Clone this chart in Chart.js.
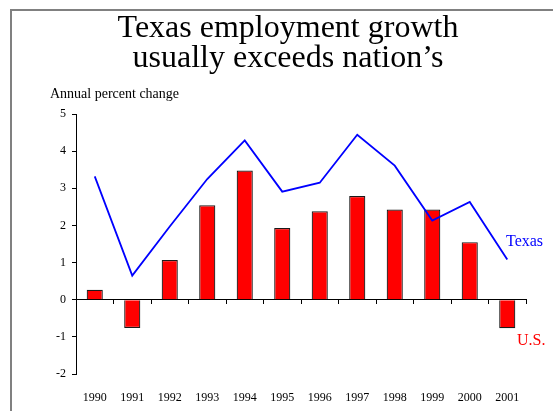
<!DOCTYPE html>
<html>
<head>
<meta charset="utf-8">
<script src="https://cdn.jsdelivr.net/npm/chart.js@4.4.1/dist/chart.umd.min.js"></script>
<style>
html,body{margin:0;padding:0;background:#fff;}
#c{display:block;}
</style>
</head>
<body>
<canvas id="c" width="553" height="411"></canvas>
<script>
const years = ['1990','1991','1992','1993','1994','1995','1996','1997','1998','1999','2000','2001'];
const usValues = [0.27, -0.76, 1.07, 2.54, 3.48, 1.93, 2.38, 2.79, 2.43, 2.43, 1.55, -0.77];
const texasValues = [3.32, 0.65, 1.97, 3.25, 4.29, 2.91, 3.15, 4.44, 3.61, 2.13, 2.63, 1.08];
const titleLines = ['Texas employment growth', 'usually exceeds nation\u2019s'];
const yAxisTitle = 'Annual percent change';
const seriesLabels = ['U.S.', 'Texas'];

const SERIF = '"Liberation Serif", "Times New Roman", Times, serif';

const decor = {
  id: 'decor',
  beforeDraw(chart) {
    const ctx = chart.ctx;
    ctx.save();
    ctx.fillStyle = '#fff';
    ctx.fillRect(0, 0, chart.width, chart.height);
    ctx.strokeStyle = '#808080';
    ctx.lineWidth = 2;
    ctx.beginPath();
    ctx.moveTo(11, chart.height);
    ctx.lineTo(11, 10);
    ctx.lineTo(chart.width, 10);
    ctx.stroke();
    ctx.restore();
  },
  afterDraw(chart) {
    const ctx = chart.ctx;
    ctx.save();
    ctx.fillStyle = '#000';
    ctx.textAlign = 'center';
    ctx.textBaseline = 'alphabetic';
    ctx.font = '32px ' + SERIF;
    ctx.fillText(titleLines[0], 288, 37);
    ctx.fillText(titleLines[1], 288, 67);
    ctx.textAlign = 'left';
    ctx.font = '14px ' + SERIF;
    ctx.fillText(yAxisTitle, 50, 98);
    ctx.font = '16px ' + SERIF;
    ctx.textBaseline = 'middle';
    ctx.fillStyle = '#0000FF';
    ctx.fillText(seriesLabels[1], 506, 242);
    ctx.fillStyle = '#FF0000';
    ctx.fillText(seriesLabels[0], 517, 341);
    ctx.restore();
  }
};

new Chart(document.getElementById('c'), {
  type: 'bar',
  data: {
    labels: years,
    datasets: [
      {
        type: 'line',
        label: seriesLabels[1],
        data: texasValues,
        borderColor: '#0000FF',
        borderWidth: 1.8,
        pointRadius: 0,
        tension: 0,
        fill: false,
        order: 0
      },
      {
        type: 'bar',
        label: seriesLabels[0],
        data: usValues,
        backgroundColor: '#FF0000',
        borderColor: '#1a1a1a',
        borderWidth: 1.2,
        barPercentage: 0.43,
        categoryPercentage: 1,
        order: 1
      }
    ]
  },
  options: {
    responsive: false,
    animation: false,
    devicePixelRatio: 1,
    layout: { padding: { left: 0, top: 114, right: 27, bottom: 0 } },
    plugins: { legend: { display: false }, tooltip: { enabled: false }, title: { display: false } },
    scales: {
      x: {
        type: 'category',
        position: 'bottom',
        offset: true,
        grid: { display: false, drawTicks: false },
        border: { display: false },
        ticks: { color: '#000', font: { family: SERIF, size: 12 }, padding: 17, maxRotation: 0, autoSkip: false },
        afterFit(s) { s.height = 37; }
      },
      xz: {
        type: 'category',
        position: { y: 0 },
        offset: true,
        labels: years,
        grid: { offset: true, drawOnChartArea: false, drawTicks: true, tickLength: 4, color: '#000', lineWidth: 1 },
        border: { display: true, color: '#000', width: 1 },
        ticks: { display: false }
      },
      y: {
        min: -2,
        max: 5,
        position: 'left',
        ticks: { stepSize: 1, color: '#000', font: { family: SERIF, size: 12 }, padding: 6 },
        grid: { drawOnChartArea: false, drawTicks: true, tickLength: 4, color: '#000', lineWidth: 1 },
        border: { display: true, color: '#000', width: 1 },
        afterFit(s) { s.width = 76; }
      }
    }
  },
  plugins: [decor]
});
</script>
</body>
</html>
